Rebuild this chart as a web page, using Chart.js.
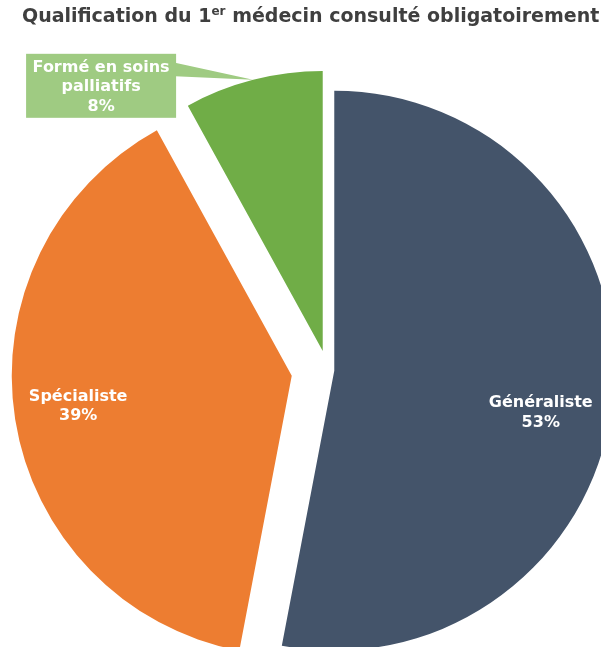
<!DOCTYPE html>
<html lang="fr">
<head>
<meta charset="utf-8">
<title>Qualification du 1er médecin consulté obligatoirement</title>
<script src="https://cdn.jsdelivr.net/npm/chart.js@4"></script>
<style>
  html, body { margin: 0; padding: 0; background: #fff; width: 601px; height: 647px; overflow: hidden; }
  #titre {
    position: absolute; left: 22px; top: 4px; z-index: 2;
    font: bold 19px "DejaVu Sans", sans-serif; color: #3f3f3f; white-space: nowrap;
  }
  #titre sup { font-size: 12px; vertical-align: 7px; line-height: 0; }
  /* le camembert déborde volontairement à droite et en bas */
  #cadre { position: absolute; left: 0; top: 0; width: 655.2px; height: 740px; }
</style>
</head>
<body>
<div id="titre">Qualification du 1<sup>er</sup> médecin consulté obligatoirement</div>
<div id="cadre"><canvas id="camembert"></canvas></div>

<script>
// Qualification du 1er médecin consulté (en %)
const categories = ['Généraliste', 'Spécialiste', 'Formé en soins palliatifs'];
const lignesEtiquettes = [['Généraliste'], ['Spécialiste'], ['Formé en soins', 'palliatifs']];
const pourcentages = [53, 39, 8];

const couleurs = ['#44546a', '#ed7d31', '#70ad47'];
const couleurBulle = '#9fcb82';
// décalage de chaque part vers l'extérieur, en px
const eclatement = [6.7, 36.3, 19.6];
// position des étiquettes internes : fraction du rayon + petit décalage d'angle (degrés)
const placement = [{ r: 0.756, da: 7.3 }, { r: 0.773, da: -0.3 }];

const POLICE = '"DejaVu Sans", Verdana, sans-serif';

// écarte les parts le long de leur bissectrice
const eclater = {
  id: 'eclater',
  afterDatasetsUpdate(chart) {
    chart.getDatasetMeta(0).data.forEach((arc, i) => {
      const mid = (arc.startAngle + arc.endAngle) / 2;
      arc.x += Math.cos(mid) * eclatement[i];
      arc.y += Math.sin(mid) * eclatement[i];
    });
  }
};

// étiquettes blanches + bulle pour la petite part
const etiquettes = {
  id: 'etiquettes',
  afterDatasetsDraw(chart) {
    const ctx = chart.ctx;
    const arcs = chart.getDatasetMeta(0).data;
    ctx.save();
    ctx.font = 'bold 16px ' + POLICE;
    ctx.textAlign = 'center';
    ctx.textBaseline = 'alphabetic';

    arcs.forEach((arc, i) => {
      const lignes = lignesEtiquettes[i].concat(pourcentages[i] + '%');
      const mid = (arc.startAngle + arc.endAngle) / 2;

      if (placement[i]) {
        const a = mid + placement[i].da * Math.PI / 180;
        const d = arc.outerRadius * placement[i].r;
        const x = arc.x + Math.cos(a) * d;
        const y = arc.y + Math.sin(a) * d;
        ctx.fillStyle = '#fff';
        ctx.fillText(lignes[0], x, y - 9.7);
        ctx.fillText(lignes[1], x, y + 9.7);
        return;
      }

      // bulle avec pointe vers le bord de la part
      const px = arc.x + Math.cos(mid) * arc.outerRadius;
      const py = arc.y + Math.sin(mid) * arc.outerRadius;
      const g = px - 227, d = px - 77, h = py - 26, b = py + 38;
      ctx.fillStyle = couleurBulle;
      ctx.fillRect(g, h, d - g, b - h);
      ctx.beginPath();
      ctx.moveTo(d - 1, py - 17);
      ctx.lineTo(px, py);
      ctx.lineTo(d - 1, py - 3.5);
      ctx.closePath();
      ctx.fill();

      ctx.fillStyle = '#fff';
      const cx = (g + d) / 2;
      lignes.forEach((t, k) => ctx.fillText(t, cx, h + 18 + k * 19.5));
    });
    ctx.restore();
  }
};

new Chart(document.getElementById('camembert'), {
  type: 'pie',
  data: {
    labels: categories,
    datasets: [{
      data: pourcentages,
      backgroundColor: couleurs,
      borderWidth: 0,
      radius: 280
    }]
  },
  options: {
    responsive: true,
    maintainAspectRatio: false,
    animation: false,
    layout: { padding: 0 },
    plugins: {
      legend: { display: false },
      tooltip: { enabled: false }
    }
  },
  plugins: [eclater, etiquettes]
});
</script>
</body>
</html>
